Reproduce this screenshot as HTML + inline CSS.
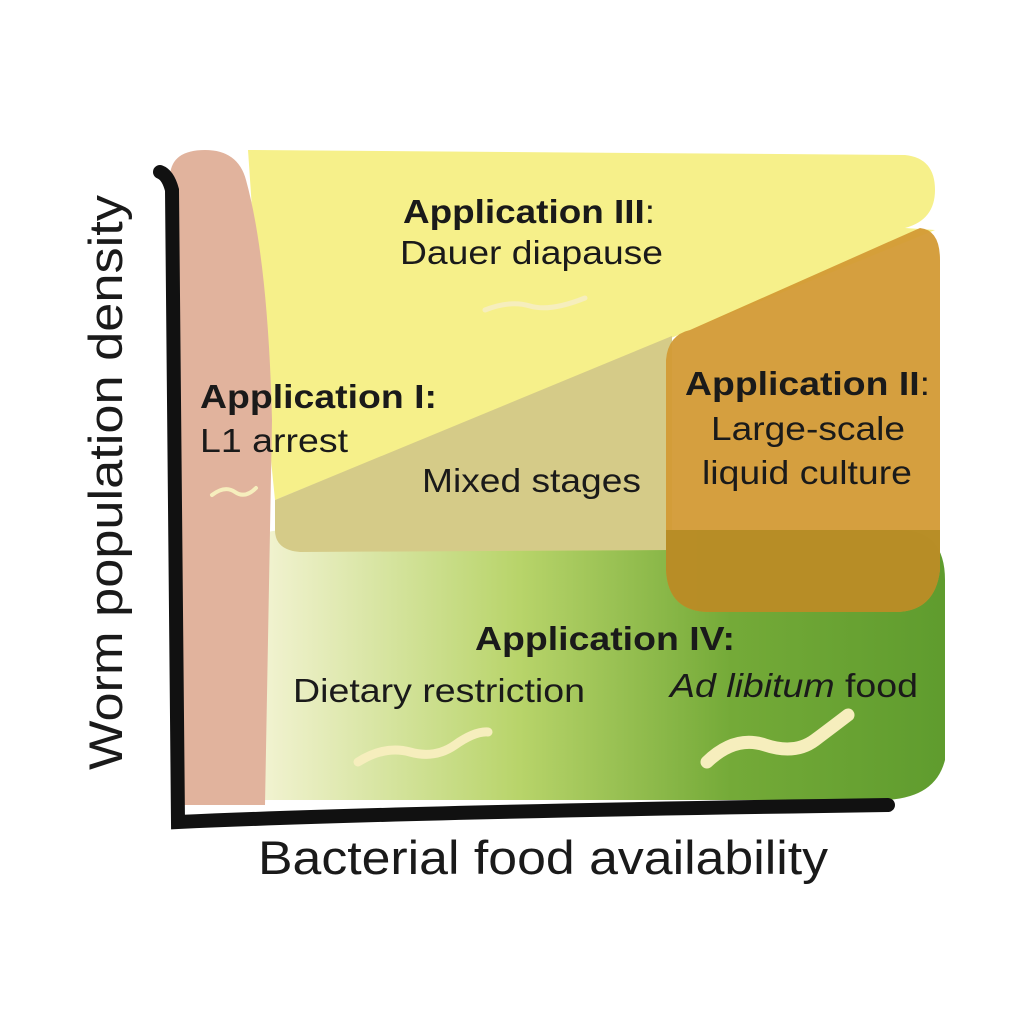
<!DOCTYPE html>
<html><head><style>
html,body{margin:0;padding:0;background:#fff;}
svg{display:block;}
text{font-family:"Liberation Sans",sans-serif;fill:#1a1a1a;}
</style></head><body>
<svg width="1024" height="1024" viewBox="0 0 1024 1024">
<defs>
<linearGradient id="g" x1="0" x2="1" y1="0" y2="0">
<stop offset="0" stop-color="#f8f6dc"/>
<stop offset="0.4" stop-color="#b8d46a"/>
<stop offset="0.7" stop-color="#74aa38"/>
<stop offset="1" stop-color="#5f9c2e"/>
</linearGradient>
</defs>
<path d="M240 560 Q240 530 290 530 L900 530 Q945 530 945 580 L945 760 Q935 800 880 800 L260 800 Q235 800 235 770 Z" fill="url(#g)"/>
<path d="M248 150 L905 155 Q935 158 935 190 Q935 220 905 228 L935 230 L275 500 L265 400 Z" fill="#f6f08a"/>
<path d="M275 500 L672 336 L672 550 L300 552 Q275 550 275 530 Z" fill="#d5cb88"/>
<path d="M920 228 Q940 230 940 260 L940 545 L940 570 Q935 612 895 612 L710 612 Q668 612 666 570 L666 360 Q668 335 690 330 Z" fill="#d39a35" opacity="0.95"/>
<path d="M666 530 L940 530 L940 570 Q935 612 895 612 L710 612 Q668 612 666 570 Z" fill="#b58c25" opacity="0.9"/>
<path d="M170 175 Q172 150 205 150 Q238 150 246 180 Q268 260 272 420 L265 805 L180 805 Z" fill="#e1b39d"/>
<path d="M160 172 Q168 175 172 190 L178 822 Q400 812 888 805" fill="none" stroke="#111" stroke-width="14" stroke-linecap="round"/>
<g fill="none" stroke="#f6eebd" stroke-linecap="round">
<path d="M485 310 Q510 300 530 306 T585 298" stroke-width="5"/>
<path d="M212 495 Q225 485 235 492 T256 488" stroke-width="4"/>
<path d="M358 762 Q385 745 410 752 T455 745 T488 732" stroke-width="9"/>
<path d="M707 762 Q735 735 765 745 T815 740 T848 715" stroke-width="13"/>
</g>
<g font-size="33">
<text x="403" y="223" font-weight="bold" textLength="252" lengthAdjust="spacingAndGlyphs">Application III<tspan font-weight="normal">:</tspan></text>
<text x="400" y="264" textLength="263" lengthAdjust="spacingAndGlyphs">Dauer diapause</text>
<text x="200" y="408" font-weight="bold" textLength="237" lengthAdjust="spacingAndGlyphs">Application I:</text>
<text x="200" y="452" textLength="148" lengthAdjust="spacingAndGlyphs">L1 arrest</text>
<text x="422" y="492" textLength="219" lengthAdjust="spacingAndGlyphs">Mixed stages</text>
<text x="685" y="395" font-weight="bold" textLength="245" lengthAdjust="spacingAndGlyphs">Application II<tspan font-weight="normal">:</tspan></text>
<text x="711" y="440" textLength="194" lengthAdjust="spacingAndGlyphs">Large-scale</text>
<text x="702" y="484" textLength="210" lengthAdjust="spacingAndGlyphs">liquid culture</text>
<text x="475" y="650" font-weight="bold" textLength="260" lengthAdjust="spacingAndGlyphs">Application IV:</text>
<text x="293" y="702" textLength="292" lengthAdjust="spacingAndGlyphs">Dietary restriction</text>
<text x="670" y="697" textLength="248" lengthAdjust="spacingAndGlyphs"><tspan font-style="italic">Ad libitum</tspan> food</text>
</g>
<text x="258" y="874" font-size="47" textLength="570" lengthAdjust="spacingAndGlyphs">Bacterial food availability</text>
<text transform="translate(122 770) rotate(-90)" font-size="47" textLength="575" lengthAdjust="spacingAndGlyphs">Worm population density</text>
</svg>
</body></html>
